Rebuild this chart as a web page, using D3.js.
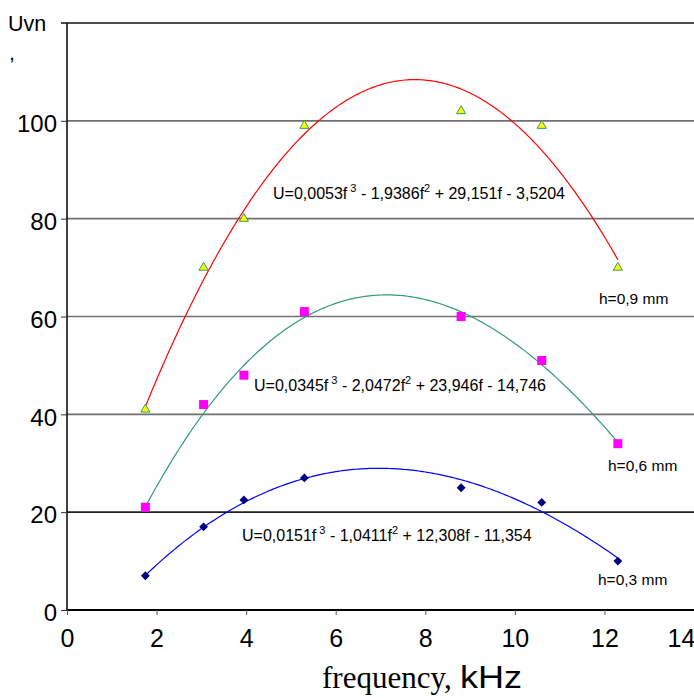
<!DOCTYPE html>
<html>
<head>
<meta charset="utf-8">
<script src="https://cdn.jsdelivr.net/npm/d3@7"></script>
<style>
  body { margin: 0; background: #fff; }
  text { font-family: "Liberation Sans", Arial, sans-serif; }
</style>
</head>
<body>
<div id="chart"></div>
<script>
// measured frequencies (kHz)
var freq = [1.75, 3.05, 3.95, 5.3, 8.8, 10.6, 12.3];

// Uvn values for each thickness
var u09 = [41, 70, 80, 99, 102, 99, 70];
var u06 = [21, 42, 48, 61, 60, 51, 34];
var u03 = [7, 17, 22.5, 27, 25, 22, 10];

// trendline coefficients a3, a2, a1, a0 (as printed on the chart)
var coef09 = [0.0053, -1.9386, 29.151, -3.5204];
var coef06 = [0.0345, -2.0472, 23.946, -14.746];
var coef03 = [0.0151, -1.0411, 12.308, -11.354];

var xTicks = [0, 2, 4, 6, 8, 10, 12, 14];
var yTicks = [0, 20, 40, 60, 80, 100];

var svgWidth = 694, svgHeight = 698;
var margin = { top: 23, right: 0, bottom: 88, left: 67 };
var chartWidth = svgWidth - margin.left - margin.right;
var chartHeight = svgHeight - margin.top - margin.bottom;

var svg = d3.select("#chart").append("svg")
  .attr("width", svgWidth)
  .attr("height", svgHeight);

var chartGroup = svg.append("g")
  .attr("transform", `translate(${margin.left}, ${margin.top})`);

var xScale = d3.scaleLinear().domain([0, 14]).range([0, chartWidth]);
var yScale = d3.scaleLinear().domain([0, 120]).range([chartHeight, 0]);

// gridlines
chartGroup.selectAll(".grid")
  .data(yTicks.filter(d => d > 0))
  .enter().append("line")
  .attr("x1", 0).attr("x2", chartWidth)
  .attr("y1", d => yScale(d)).attr("y2", d => yScale(d))
  .attr("stroke", d => d === 20 ? "#222" : "#707070")
  .attr("stroke-width", 1.6);

// top border line
chartGroup.append("line")
  .attr("x1", -6).attr("x2", chartWidth)
  .attr("y1", yScale(120)).attr("y2", yScale(120))
  .attr("stroke", "#111").attr("stroke-width", 1.5);

// axes
var yAxis = d3.axisLeft(yScale).tickValues(yTicks).tickSize(6).tickPadding(4);
var xAxis = d3.axisBottom(xScale).tickValues(xTicks).tickSize(5).tickPadding(14);

var yG = chartGroup.append("g").call(yAxis);
yG.select(".domain").attr("d", `M0,${yScale(120)}V${chartHeight}`).attr("stroke", "#000").attr("stroke-width", 1.5);
yG.selectAll(".tick line").attr("stroke", "#333");
yG.selectAll(".tick text")
  .attr("font-size", 24)
  .attr("font-family", "Liberation Sans, Arial, sans-serif")
  .attr("fill", "#000")
  .attr("dy", "0.45em");

var xG = chartGroup.append("g")
  .attr("transform", `translate(0, ${chartHeight})`)
  .call(xAxis);
xG.select(".domain").attr("d", `M0,0H${chartWidth}`).attr("stroke", "#000").attr("stroke-width", 1.8);
xG.selectAll(".tick line").attr("stroke", "#555");
xG.selectAll(".tick text")
  .attr("font-size", 25)
  .attr("font-family", "Liberation Sans, Arial, sans-serif")
  .attr("fill", "#000")
  .attr("dx", d => d === 14 ? -13 : 0);

// trendlines
function poly(c, f) {
  return c[0] * f * f * f + c[1] * f * f + c[2] * f + c[3];
}
var fSteps = d3.range(freq[0], freq[freq.length - 1] + 0.001, 0.05);

var line = d3.line()
  .x(d => xScale(d[0]))
  .y(d => yScale(d[1]));

var series = [
  { vals: u09, coef: coef09, color: "#ff0000" },
  { vals: u06, coef: coef06, color: "#339977" },
  { vals: u03, coef: coef03, color: "#0000ff" }
];

series.forEach(s => {
  chartGroup.append("path")
    .datum(fSteps.map(f => [f, poly(s.coef, f)]))
    .attr("d", line)
    .attr("fill", "none")
    .attr("stroke", s.color)
    .attr("stroke-width", 1.2);
});

// markers
var tri = d3.symbol().type(d3.symbolTriangle).size(36);
chartGroup.selectAll(".p09")
  .data(freq.map((f, i) => [f, u09[i]]))
  .enter().append("path")
  .attr("d", tri)
  .attr("transform", d => `translate(${xScale(d[0])}, ${yScale(d[1])})`)
  .attr("fill", "#ffff00")
  .attr("stroke", "#339966")
  .attr("stroke-width", 1);

chartGroup.selectAll(".p06")
  .data(freq.map((f, i) => [f, u06[i]]))
  .enter().append("rect")
  .attr("x", d => xScale(d[0]) - 4.5)
  .attr("y", d => yScale(d[1]) - 4.5)
  .attr("width", 9).attr("height", 9)
  .attr("fill", "#ff00ff");

var dia = d3.symbol().type(d3.symbolDiamond2).size(50);
chartGroup.selectAll(".p03")
  .data(freq.map((f, i) => [f, u03[i]]))
  .enter().append("path")
  .attr("d", dia)
  .attr("transform", d => `translate(${xScale(d[0])}, ${yScale(d[1])})`)
  .attr("fill", "#000080");

// equation labels
function equation(c, x, y) {
  var fmt = v => Math.abs(v).toString().replace(".", ",");
  var t = chartGroup.append("text")
    .attr("x", x).attr("y", y)
    .attr("font-size", 16)
    .attr("fill", "#000");
  t.append("tspan").text("U=" + fmt(c[0]) + "f");
  t.append("tspan").attr("dy", -7).attr("font-size", 11).text(" 3");
  t.append("tspan").attr("dy", 7).text(" - " + fmt(c[1]) + "f");
  t.append("tspan").attr("dy", -7).attr("font-size", 11).text("2");
  t.append("tspan").attr("dy", 7).text(" + " + fmt(c[2]) + "f - " + fmt(c[3]));
}
equation(coef09, 273 - margin.left, 199 - margin.top);
equation(coef06, 254 - margin.left, 391 - margin.top);
equation(coef03, 242 - margin.left, 541 - margin.top);

// thickness labels
var hLabels = ["h=0,9 mm", "h=0,6 mm", "h=0,3 mm"];
var hPos = [[599, 304], [608, 471], [598, 585]];
hLabels.forEach((h, i) => {
  svg.append("text")
    .attr("x", hPos[i][0]).attr("y", hPos[i][1])
    .attr("font-size", 15.5)
    .attr("fill", "#000")
    .text(h);
});

// axis titles
svg.append("text")
  .attr("x", 8).attr("y", 31)
  .attr("font-size", 21.5)
  .text("Uvn");
svg.append("text")
  .attr("x", 9).attr("y", 60)
  .attr("font-size", 21)
  .text(",");

var xTitle = svg.append("text")
  .attr("x", 322).attr("y", 688)
  .attr("font-size", 31);
xTitle.append("tspan")
  .attr("font-family", "Liberation Serif, Times New Roman, serif")
  .text("frequency, ");
svg.append("text")
  .attr("x", 460).attr("y", 688)
  .attr("font-size", 31)
  .attr("textLength", 62)
  .attr("lengthAdjust", "spacingAndGlyphs")
  .text("kHz");
</script>
</body>
</html>
